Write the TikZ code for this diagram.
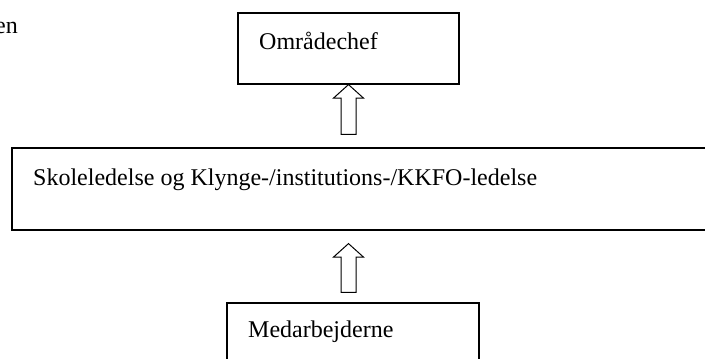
\documentclass[tikz,border=0pt]{standalone}
\usepackage{fontspec}
\setmainfont{Liberation Serif}
\usetikzlibrary{positioning,calc}

% hollow block arrow from a base point up to a tip point
\newcommand{\hollowarrow}[2]{%
  \draw[blockarrow] let \p1=(#1), \p2=(#2) in
    (\x1-7.5pt,\y1) -- (\x1-7.5pt,\y2-13.5pt) -- (\x1-15pt,\y2-13.5pt) -- (\x2,\y2)
    -- (\x1+15pt,\y2-13.5pt) -- (\x1+7.5pt,\y2-13.5pt) -- (\x1+7.5pt,\y1) -- cycle;}

\begin{document}
\begin{tikzpicture}[
    x=1pt, y=1pt,
    box/.style={rectangle, draw, line width=1.2pt, inner sep=0pt},
    boxtext/.style={font=\fontsize{24}{28}\selectfont, inner sep=0pt, anchor=base west},
    blockarrow/.style={draw, line width=1pt, fill=white, line join=miter}
]
\useasboundingbox (0,0) rectangle (705,-359);
\clip (0,0) rectangle (705,-359);

% Boxes
\node[box, minimum width=221pt, minimum height=71pt] (chef) at (348.5,-48.5) {};
\node[box, minimum width=713pt, minimum height=82pt] (ledelse) at (368.5,-189) {};
\node[box, minimum width=252pt, minimum height=77pt] (med) at (353,-341.5) {};

% Texts
\node[boxtext] (cheftxt) at (259,-49) {Områdechef};
\node[boxtext] (ledelsetxt) at (33,-185) {Skoleledelse og Klynge-/institutions-/KKFO-ledelse};
\node[boxtext] (medtxt) at (248,-337) {Medarbejderne};
\node[boxtext, anchor=base east] (cut) at (18,-33) {en};

% Arrows
\coordinate (a1from) at ($(chef.south |- ledelse.north)+(0,13)$);
\coordinate (a2from) at ($(chef.south |- med.north)+(0,10)$);
\coordinate (a2to) at ($(chef.south |- ledelse.south)+(0,-13)$);
\hollowarrow{a1from}{chef.south}
\hollowarrow{a2from}{a2to}

\end{tikzpicture}
\end{document}
